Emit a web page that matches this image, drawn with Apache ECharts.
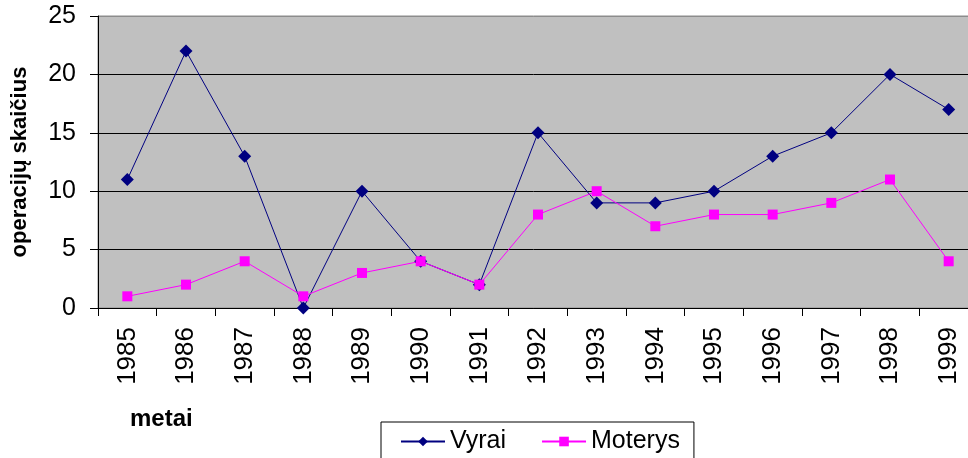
<!DOCTYPE html>
<html>
<head>
<meta charset="utf-8">
<script src="https://cdn.jsdelivr.net/npm/echarts@6/dist/echarts.min.js"></script>
<style>html,body{margin:0;padding:0;background:#fff;}#c{width:968px;height:458px;}</style>
</head>
<body>
<div id="c"></div>
<script>
const years = ['1985','1986','1987','1988','1989','1990','1991','1992','1993','1994','1995','1996','1997','1998','1999'];
const vyrai = [11,22,13,0,10,4,2,15,9,9,10,13,15,20,17];
const moterys = [1,2,4,1,3,4,2,8,10,7,8,8,9,11,4];
const yTicks = [0,5,10,15,20,25];
const seriesNames = ['Vyrai','Moterys'];
const yTitle = 'operacijų skaičius';
const xTitle = 'metai';

const font = '"Liberation Sans", Arial, sans-serif';
const chart = echarts.init(document.getElementById('c'), null, {renderer:'canvas'});
chart.setOption({
  animation: false,
  backgroundColor: '#fff',
  textStyle: {fontFamily: font},
  grid: {left: 98, top: 16, width: 880, height: 292, containLabel: false, outerBoundsMode: 'none',
         show: true, backgroundColor: '#C0C0C0', borderColor: '#8c8c8c', borderWidth: 1},
  legend: {
    left: 381, top: 422, orient: 'horizontal',
    data: seriesNames,
    borderColor: '#000', borderWidth: 1,
    padding: [7, 14, 20, 19],
    itemWidth: 44, itemHeight: 12, itemGap: 35,
    textStyle: {fontSize: 25, color: '#000', fontFamily: font}
  },
  xAxis: {
    type: 'category', data: years, boundaryGap: true,
    axisLine: {lineStyle: {color: '#000', width: 1}},
    axisTick: {show: true, length: 8, lineStyle: {color: '#000'}},
    axisLabel: {rotate: 90, fontSize: 26, color: '#000', margin: 19, fontFamily: font}
  },
  yAxis: {
    type: 'value', min: yTicks[0], max: yTicks[yTicks.length-1], interval: 5,
    name: yTitle, nameLocation: 'middle', nameRotate: 90, nameGap: 67,
    nameTextStyle: {fontSize: 22, fontWeight: 'bold', color: '#000', fontFamily: font},
    axisLine: {show: true, lineStyle: {color: '#000', width: 1}},
    axisTick: {show: true, length: 8, lineStyle: {color: '#000'}},
    axisLabel: {fontSize: 25, color: '#000', margin: 22, fontFamily: font},
    splitLine: {show: true, lineStyle: {color: ['#000','#000','#000','#000','#000','#8c8c8c'], width: 1}}
  },
  graphic: [{
    type: 'text', left: 130, top: 407,
    style: {text: xTitle, fontSize: 24, fontWeight: 'bold', fill: '#000', fontFamily: font}
  }],
  series: [
    {name: seriesNames[0], type: 'line', data: vyrai, symbol: 'diamond', symbolSize: 13,
     lineStyle: {color: '#000080', width: 1}, itemStyle: {color: '#000080'}},
    {name: seriesNames[1], type: 'line', data: moterys, symbol: 'rect', symbolSize: 10,
     lineStyle: {color: '#FF00FF', width: 1}, itemStyle: {color: '#FF00FF'}}
  ]
});
</script>
</body>
</html>
